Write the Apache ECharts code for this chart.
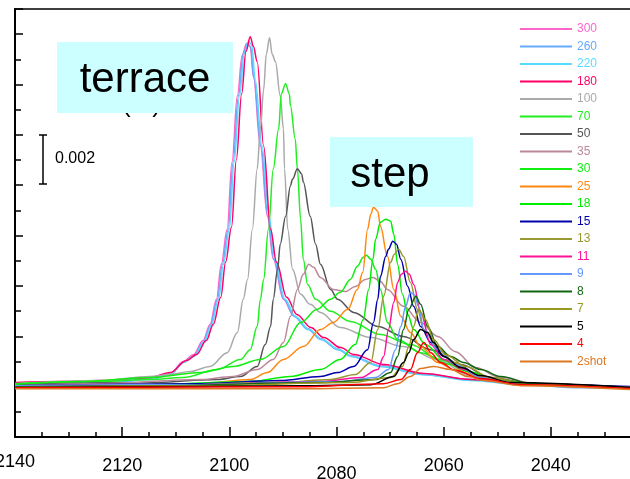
<!DOCTYPE html>
<html><head><meta charset="utf-8">
<script src="https://cdn.jsdelivr.net/npm/echarts@6/dist/echarts.min.js"></script>
<style>html,body{margin:0;padding:0;background:#fff;overflow:hidden}#c{width:630px;height:479px}</style>
</head><body><div id="c"></div>
<script>
// legend names and colours
const names = ['300','260','220','180','100','70','50','35','30','25','18','15','13','11','9','8','7','5','4','2shot'];
const colors = ['#ff66cc','#66aaff','#55ddff','#ff0066','#aaaaaa','#22ee22','#555555','#bb8899','#11ee11','#ff8811','#00ee00','#0000aa','#999933','#ff1199','#6699ff','#116611','#999922','#000000','#ff0000','#dd7722'];
const xTickLabels = [2140, 2120, 2100, 2080, 2060, 2040];

// spectra: [wavenumber (cm-1), absorbance (x 0.001)]
const s300 = [[2140,0.08],[2131.6,0.14],[2124.1,0.16],[2114.8,0.32],[2111.0,0.52],[2108.6,1.00],[2106.7,1.27],[2104.9,1.83],[2103.6,2.47],[2102.4,3.47],[2101.5,4.86],[2100.4,6.25],[2099.5,8.92],[2098.5,11.55],[2097.6,13.15],[2096.8,13.63],[2096.1,13.51],[2095.5,12.31],[2094.2,9.56],[2092.9,6.77],[2091.8,5.06],[2089.9,3.47],[2088.0,2.83],[2085.4,2.31],[2083.0,1.91],[2079.8,1.51],[2077.4,1.24],[2071.8,0.84],[2064.3,0.52],[2055.0,0.28],[2045.6,0.12],[2034.4,0.04],[2025,-0.04]];
const s260 = [[2140,0.04],[2131.6,0.16],[2124.1,0.12],[2114.8,0.28],[2111.0,0.48],[2108.6,0.96],[2106.7,1.20],[2104.9,1.75],[2103.6,2.39],[2102.2,3.47],[2101.3,4.86],[2100.2,6.25],[2099.3,8.92],[2098.3,11.55],[2097.4,13.23],[2096.6,13.63],[2096.0,13.47],[2095.4,12.23],[2094.1,9.56],[2092.8,6.77],[2091.7,5.06],[2089.8,3.47],[2087.9,2.79],[2085.3,2.27],[2082.9,1.87],[2079.7,1.47],[2077.3,1.20],[2071.7,0.80],[2064.2,0.48],[2055.0,0.28],[2045.6,0.08],[2034.4,-0.04],[2025,-0.08]];
const s220 = [[2140,0.12],[2131.6,0.08],[2124.1,0.20],[2114.8,0.30],[2111.0,0.50],[2108.4,0.98],[2106.5,1.22],[2104.7,1.77],[2103.4,2.41],[2102.0,3.47],[2101.1,4.86],[2100.0,6.25],[2099.1,8.92],[2098.1,11.55],[2097.2,13.23],[2096.4,13.71],[2095.8,13.55],[2095.2,12.23],[2093.9,9.56],[2092.6,6.77],[2091.5,5.06],[2089.6,3.47],[2087.7,2.79],[2085.1,2.27],[2082.7,1.87],[2079.5,1.47],[2077.1,1.20],[2071.5,0.80],[2064.0,0.48],[2055.0,0.24],[2045.6,0.08],[2034.4,0.00],[2025,-0.04]];
const s180 = [[2140,0.16],[2131.6,0.20],[2124.1,0.24],[2114.8,0.36],[2111.0,0.56],[2108.0,1.04],[2106.1,1.28],[2104.3,1.83],[2103.0,2.47],[2101.6,3.55],[2100.7,4.94],[2099.6,6.33],[2098.7,9.00],[2097.7,11.63],[2096.9,13.31],[2096.1,13.90],[2095.5,13.51],[2094.8,12.91],[2093.6,9.56],[2092.3,6.25],[2091.2,4.94],[2089.3,3.55],[2087.4,2.87],[2084.8,2.35],[2082.4,1.95],[2079.2,1.55],[2076.8,1.28],[2071.2,0.88],[2063.7,0.52],[2055.0,0.28],[2045.6,0.12],[2034.4,0.00],[2025,-0.04]];
const s100 = [[2140,0.12],[2124.1,0.24],[2114.8,0.40],[2111.0,0.48],[2107.3,0.60],[2103.6,0.80],[2100.4,1.35],[2098.5,2.15],[2097.4,3.47],[2096.6,4.26],[2095.7,6.25],[2094.8,8.65],[2094.2,10.24],[2093.6,11.80],[2093.1,13.20],[2092.5,13.86],[2092.0,13.20],[2091.4,12.91],[2090.5,11.55],[2089.9,10.24],[2089.7,8.65],[2089.1,6.25],[2088.2,4.66],[2086.7,3.67],[2084.9,3.27],[2083.0,2.95],[2079.3,2.35],[2073.6,1.95],[2067.5,1.59],[2061.1,1.08],[2055.0,0.40],[2045.6,0.12],[2034.4,0.00],[2025,-0.04]];
const s70 = [[2140,0.12],[2124.1,0.20],[2114.8,0.28],[2108.6,0.36],[2102.2,0.68],[2097.9,1.08],[2096.1,1.47],[2094.8,2.39],[2094.2,3.47],[2093.6,4.26],[2092.7,6.25],[2091.8,8.65],[2090.8,10.24],[2090.3,11.63],[2089.5,12.03],[2088.8,11.63],[2088.6,11.16],[2087.7,9.84],[2087.3,8.65],[2086.7,6.65],[2086.2,5.06],[2085.4,4.06],[2083.9,3.47],[2081.1,2.99],[2077.4,2.59],[2071.8,2.07],[2066.2,1.67],[2060.6,1.08],[2055.0,0.48],[2045.6,0.12],[2034.4,0.04],[2025,-0.08]];
const s50 = [[2140,0.08],[2114.8,0.16],[2102.2,0.28],[2097.9,0.40],[2094.8,0.80],[2093.3,1.67],[2092.3,2.39],[2091.8,3.47],[2091.0,4.66],[2090.5,5.66],[2089.5,6.77],[2088.6,7.97],[2088.2,8.25],[2087.3,8.65],[2086.5,8.45],[2086.2,8.13],[2084.9,6.77],[2083.9,5.66],[2083.0,4.86],[2081.1,3.86],[2079.8,3.47],[2076.8,2.95],[2072.3,2.39],[2067.5,1.99],[2062.4,1.47],[2056.8,0.88],[2051.2,0.36],[2043.7,0.12],[2025,-0.04]];
const s35 = [[2140,0.04],[2124.1,0.12],[2105.4,0.28],[2099.3,0.40],[2094.8,0.68],[2091.8,1.08],[2089.9,1.75],[2088.6,2.79],[2087.3,3.86],[2086.2,4.46],[2085.2,4.86],[2084.3,4.74],[2083.0,4.34],[2080.6,3.86],[2078.3,3.78],[2076.5,3.98],[2074.6,4.26],[2073.2,4.34],[2071.8,4.18],[2070.5,3.86],[2067.5,3.19],[2064.3,2.55],[2061.1,1.99],[2057.8,1.39],[2054.1,0.76],[2049.3,0.36],[2041.9,0.08],[2025,-0.04]];
const s30 = [[2140,0.08],[2127.9,0.20],[2114.8,0.36],[2105.4,0.56],[2099.3,0.80],[2094.2,1.08],[2089.9,1.59],[2086.7,2.55],[2083.6,3.07],[2081.1,3.47],[2079.3,3.75],[2077.4,4.26],[2076.1,4.78],[2075.0,5.14],[2074.4,5.22],[2073.6,5.06],[2072.7,4.66],[2071.8,3.86],[2070.5,2.55],[2068.6,1.87],[2064.3,1.35],[2058.7,0.88],[2053.1,0.40],[2045.6,0.08],[2025,-0.08]];
const s25 = [[2140,0.00],[2124.1,0.04],[2105.4,0.12],[2096.1,0.28],[2092.9,0.56],[2089.9,1.08],[2086.2,1.59],[2083.0,2.27],[2080.6,2.55],[2077.9,3.07],[2076.1,3.86],[2075.1,4.54],[2074.2,6.25],[2073.6,6.85],[2073.1,7.13],[2072.3,6.97],[2071.8,6.37],[2070.5,5.18],[2069.3,3.86],[2068.0,2.79],[2066.2,2.15],[2064.3,1.59],[2061.1,0.96],[2058.1,0.68],[2053.1,0.36],[2045.6,0.08],[2025,-0.04]];
const s18 = [[2140,0.04],[2114.8,0.08],[2096.1,0.20],[2088.6,0.40],[2083.0,0.68],[2079.3,1.08],[2076.5,1.67],[2075.0,2.67],[2074.0,3.86],[2073.2,5.06],[2072.7,5.86],[2071.8,6.53],[2070.8,6.65],[2069.9,6.57],[2069.3,6.05],[2068.6,4.86],[2067.7,3.67],[2066.7,2.87],[2065.6,2.27],[2063.4,1.67],[2060.0,1.08],[2055.5,0.60],[2049.3,0.24],[2041.9,0.08],[2025,-0.04]];
const s15 = [[2140,0.04],[2105.4,0.12],[2090.5,0.24],[2083.0,0.40],[2079.8,0.56],[2076.8,0.80],[2074.2,1.47],[2073.1,2.55],[2072.3,3.47],[2071.8,4.38],[2070.8,5.18],[2070.3,5.46],[2069.5,5.78],[2068.8,5.66],[2068.0,5.06],[2066.7,3.98],[2065.6,3.19],[2064.3,2.39],[2062.4,1.75],[2060.0,1.20],[2056.8,0.80],[2053.1,0.40],[2045.6,0.12],[2025,0.00]];
const s13 = [[2140,0.00],[2114.8,0.04],[2090.5,0.16],[2081.1,0.28],[2076.5,0.48],[2073.6,0.96],[2072.3,2.27],[2071.2,3.59],[2069.9,4.94],[2069.2,5.26],[2068.4,5.46],[2067.5,5.18],[2066.2,4.14],[2064.9,3.07],[2063.7,2.27],[2061.1,1.59],[2058.1,0.96],[2053.6,0.40],[2045.6,0.12],[2025,-0.04]];
const s11 = [[2140,0.04],[2105.4,0.08],[2083.0,0.20],[2075.5,0.36],[2072.3,0.68],[2071.2,1.20],[2070.3,2.27],[2069.3,3.35],[2068.6,4.14],[2067.9,4.46],[2067.1,4.58],[2066.4,4.46],[2065.6,4.06],[2064.3,2.95],[2062.4,1.67],[2060.0,1.08],[2056.3,0.68],[2052.5,0.28],[2045.6,0.08],[2025,-0.04]];
const s9 = [[2140,0.04],[2105.4,0.08],[2079.3,0.20],[2072.7,0.36],[2070.3,0.68],[2069.0,1.47],[2068.0,2.39],[2067.1,3.19],[2066.2,3.75],[2065.4,3.63],[2064.7,3.19],[2063.7,2.27],[2061.1,1.47],[2057.8,0.88],[2053.1,0.36],[2045.6,0.08],[2025,-0.04]];
const s8 = [[2140,0.00],[2114.8,0.04],[2083.0,0.16],[2072.7,0.28],[2069.9,0.56],[2068.6,1.20],[2067.5,2.27],[2066.5,3.07],[2065.2,3.59],[2064.3,3.27],[2063.0,2.39],[2061.1,1.59],[2058.7,1.20],[2056.3,0.96],[2053.1,0.68],[2049.3,0.40],[2043.7,0.12],[2025,-0.04]];
const s7 = [[2140,-0.04],[2105.4,0.04],[2077.4,0.16],[2069.9,0.36],[2067.7,0.80],[2066.5,1.59],[2065.6,2.39],[2064.7,3.07],[2063.4,2.67],[2061.9,1.87],[2059.6,1.27],[2055.9,0.80],[2051.2,0.36],[2043.7,0.08],[2025,-0.08]];
const s5 = [[2140,-0.04],[2114.8,0.00],[2086.7,0.04],[2073.6,0.08],[2069.3,0.40],[2067.5,0.96],[2066.5,1.35],[2065.6,1.87],[2064.3,2.27],[2063.0,2.15],[2061.9,1.75],[2060.0,1.20],[2056.8,0.76],[2053.1,0.44],[2047.5,0.16],[2025,-0.04]];
const s4 = [[2140,-0.04],[2086.7,0.00],[2071.2,0.12],[2068.0,0.28],[2066.2,0.68],[2064.9,1.35],[2063.7,1.75],[2062.4,1.35],[2060.6,0.96],[2057.8,0.64],[2053.1,0.32],[2045.6,0.08],[2025,-0.08]];
const s2shot = [[2140,-0.08],[2086.7,-0.08],[2071.2,-0.04],[2068.6,0.12],[2066.2,0.40],[2064.3,0.72],[2061.9,0.80],[2058.7,0.68],[2055.5,0.40],[2052.5,0.24],[2045.6,0.04],[2025,-0.12]];
const spectra = [s300,s260,s220,s180,s100,s70,s50,s35,s30,s25,s18,s15,s13,s11,s9,s8,s7,s5,s4,s2shot];

const FONT = 'Liberation Sans, Arial, sans-serif';
const chart = echarts.init(document.getElementById('c'));
chart.setOption({
  animation: false,
  backgroundColor: '#ffffff',
  grid: { left: 15, right: -28, top: 9, bottom: 42, outerBoundsMode: 'none', containLabel: false, show: true, borderColor: '#000', borderWidth: 1.5, backgroundColor: 'transparent' },
  xAxis: {
    type: 'value', inverse: true, min: 2020, max: 2140, interval: 20,
    axisLine: { show: true, onZero: false, lineStyle: { color: '#000', width: 2 } },
    axisTick: { show: true, inside: true, length: 10, lineStyle: { color: '#000', width: 1.5 } },
    minorTick: { show: true, splitNumber: 4, length: 5, lineStyle: { color: '#000', width: 1.5 } },
    splitLine: { show: false },
    axisLabel: {
      margin: 20, fontSize: 18, color: '#000', fontFamily: FONT, hideOverlap: false, showMinLabel: true, showMaxLabel: true,
      formatter: function (v) {
        if (xTickLabels.indexOf(v) < 0) return '';
        if (v === 2080) return '{low|' + v + '}';
        if (v === 2140) return '{hi|' + v + '}';
        return String(v);
      },
      rich: { low: { fontSize: 18, lineHeight: 34, fontFamily: FONT, color: '#000' }, hi: { fontSize: 18, lineHeight: 10, fontFamily: FONT, color: '#000' } }
    }
  },
  yAxis: {
    type: 'value', min: -2, max: 15, interval: 2,
    axisLine: { show: true, onZero: false, lineStyle: { color: '#000', width: 2 } },
    axisTick: { show: true, inside: true, length: 8, lineStyle: { color: '#000', width: 1.5 } },
    minorTick: { show: true, splitNumber: 2, length: 6, lineStyle: { color: '#000', width: 1.5 } },
    splitLine: { show: false },
    axisLabel: { show: false }
  },
  legend: {
    orient: 'vertical', left: 515, top: 14, icon: 'rect', itemWidth: 52, itemHeight: 2, itemGap: -2.5,
    textStyle: { fontSize: 12, fontFamily: FONT, lineHeight: 14, padding: [0, 0, 6, 0] },
    data: names.map((n, i) => ({ name: n, textStyle: { color: colors[i] } }))
  },
  series: names.map((n, i) => ({
    name: n, type: 'line', data: spectra[i], showSymbol: false, smooth: 0.35, smoothMonotone: 'x',
    lineStyle: { color: colors[i], width: 1.5 }, itemStyle: { color: colors[i] }, z: 2, silent: true
  })),
  graphic: [
    { type: 'text', left: 122, top: 92, z: 5, style: { text: '(   )', fontSize: 26, fontFamily: FONT, fill: '#000' } },
    { type: 'rect', shape: { x: 57, y: 42, width: 176, height: 71 }, style: { fill: '#ccffff' }, z: 10 },
    { type: 'text', x: 145, y: 80, z: 11, style: { text: 'terrace', fontSize: 42, fontFamily: FONT, fill: '#000', align: 'center', verticalAlign: 'middle' } },
    { type: 'rect', shape: { x: 330, y: 137, width: 143, height: 70 }, style: { fill: '#ccffff' }, z: 10 },
    { type: 'text', x: 390, y: 175, z: 11, style: { text: 'step', fontSize: 42, fontFamily: FONT, fill: '#000', align: 'center', verticalAlign: 'middle' } },
    { type: 'line', shape: { x1: 43, y1: 135, x2: 43, y2: 184 }, style: { stroke: '#000', lineWidth: 1.5 }, z: 10 },
    { type: 'line', shape: { x1: 39, y1: 135, x2: 47, y2: 135 }, style: { stroke: '#000', lineWidth: 1.5 }, z: 10 },
    { type: 'line', shape: { x1: 39, y1: 184, x2: 47, y2: 184 }, style: { stroke: '#000', lineWidth: 1.5 }, z: 10 },
    { type: 'text', x: 55, y: 159, z: 10, style: { text: '0.002', fontSize: 16, fontFamily: FONT, fill: '#000', verticalAlign: 'middle' } }
  ]
});
</script></body></html>
